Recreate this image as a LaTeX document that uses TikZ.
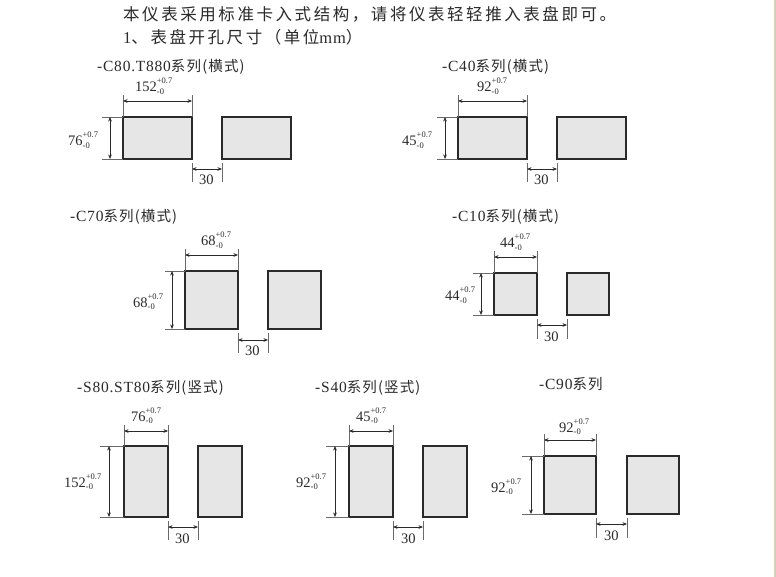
\documentclass[tikz,border=0pt]{standalone}
\usepackage{fontspec}
\usetikzlibrary{arrows.meta}
\setmainfont{Liberation Serif}
\newfontfamily\cjkhead[LetterSpace=15.5]{Noto Sans CJK SC}
\newfontfamily\cjktitle[LetterSpace=8]{Noto Sans CJK SC}
\newfontfamily\serifsp[LetterSpace=5]{Liberation Serif}
\newcommand{\tol}[1]{\fontsize{14.5}{15}\selectfont #1\rlap{\raisebox{8pt}{\fontsize{8.5}{9}\selectfont +0.7}}\raisebox{-2.5pt}{\fontsize{8.5}{9}\selectfont -0}}
\newcommand{\serieslabel}[2]{\fontsize{15.5}{16}\selectfont{\serifsp #1}{\cjktitle\fontsize{14.5}{16}\selectfont #2}}
\definecolor{inkc}{HTML}{2A2A2A}
\definecolor{panelfill}{HTML}{E6E6E6}
\definecolor{stripc}{HTML}{D8CFB8}
\tikzset{
 panel/.style={draw=inkc,fill=panelfill,line width=1.1pt,inner sep=0pt,outer sep=0pt},
 extline/.style={draw=inkc!70,line width=0.6pt},
 dimline/.style={draw=inkc,line width=0.6pt,{Stealth[length=4.5pt,width=3.6pt]}-{Stealth[length=4.5pt,width=3.6pt]}},
 lbl/.style={inner sep=0pt,anchor=base west,text=inkc},
 headtxt/.style={inner sep=0pt,anchor=base west,text=inkc,font=\fontsize{16.5}{18}\selectfont}
}
\begin{document}
\begin{tikzpicture}[x=1pt,y=-1pt]
\useasboundingbox (0,0) rectangle (776,577);
\fill[white] (0,0) rectangle (776,577);
\fill[stripc] (774,0) rectangle (776,577);
\node[headtxt] (h1) at (123,20.5) {\cjkhead 本仪表采用标准卡入式结构，请将仪表轻轻推入表盘即可。};
\node[headtxt] (h2) at (123,43.5) {\serifsp 1\cjkhead 、表盘开孔尺寸（单位\serifsp mm\cjkhead ）};
\foreach \id/\xa/\xb/\xc/\xd/\ytop/\ybot/\dimy/\exty/\dimx/\extx/\gapy/\gaptop/\gapbot/\wval/\wx/\wy/\hval/\hx/\hy/\zx/\zy/\sx/\sy/\sname/\ssuf in {
 a/123/192/222/291/117/159/101/95/110/102/169/163/182/152/135/92/76/68/146/199/185/97/71.5/{-C80.T880}/{系列(横式)},
 b/458/527/557/626/117/159/101/95/445/437/169/163/182/92/477/92/45/402/146/534/185/442/71.5/{-C40}/{系列(横式)},
 c/185/238/268/321/271/329/255/249/172/165/340/333/353/68/201/246/68/133/307/245/355/70/221.5/{-C70}/{系列(横式)},
 d/494/537/567/609/273/315/257/251/481/473/325/319/339/44/500/248/44/445/301/544/341/452/221.5/{-C10}/{系列(横式)},
 e/124/168/198/242/446/517/431/425/109/100/527/521/540/76/131/421/152/64/487/175/543/77/392.5/{-S80.ST80}/{系列(竖式)},
 f/349/393/423/467/446/517/431/425/335/326/527/521/540/45/356/421/92/296/487/401/543/315/392.5/{-S40}/{系列(竖式)},
 g/544/596/627/679/456/514/440/434/531/522/524/518/538/92/559/432/92/491/492/604/540/539/389.5/{-C90}/{系列}
}{
 \pgfmathsetmacro{\wa}{\xb-\xa}
 \pgfmathsetmacro{\wb}{\xd-\xc}
 \pgfmathsetmacro{\hh}{\ybot-\ytop}
 \node[panel,anchor=north west,minimum width=\wa pt,minimum height=\hh pt] (\id-p) at (\xa,\ytop) {};
 \node[panel,anchor=north west,minimum width=\wb pt,minimum height=\hh pt] (\id-q) at (\xc,\ytop) {};
 \coordinate (\id-tl) at (\id-p.north west |- 0,\exty);
 \coordinate (\id-tr) at (\id-p.north east |- 0,\exty);
 \coordinate (\id-lt) at (\extx,0 |- \id-p.north west);
 \coordinate (\id-lb) at (\extx,0 |- \id-p.south west);
 \draw[extline] (\id-p.north west) -- (\id-tl);
 \draw[extline] (\id-p.north east) -- (\id-tr);
 \draw[extline] (\id-p.north west) -- (\id-lt);
 \draw[extline] (\id-p.south west) -- (\id-lb);
 \draw[dimline] (\id-p.north west |- 0,\dimy) -- (\id-p.north east |- 0,\dimy);
 \draw[dimline] (\dimx,0 |- \id-p.north west) -- (\dimx,0 |- \id-p.south west);
 \draw[extline] (\id-p.east |- 0,\gaptop) -- (\id-p.east |- 0,\gapbot);
 \draw[extline] (\id-q.west |- 0,\gaptop) -- (\id-q.west |- 0,\gapbot);
 \draw[dimline] (\id-p.east |- 0,\gapy) -- (\id-q.west |- 0,\gapy);
 \node[lbl] (\id-tw) at (\wx,\wy) {\tol{\wval}};
 \node[lbl] (\id-th) at (\hx,\hy) {\tol{\hval}};
 \node[lbl,font=\fontsize{14.5}{15}\selectfont] (\id-gap) at (\zx,\zy) {30};
 \node[lbl] (\id-name) at (\sx,\sy) {\serieslabel{\sname}{\ssuf}};
}
\end{tikzpicture}
\end{document}
